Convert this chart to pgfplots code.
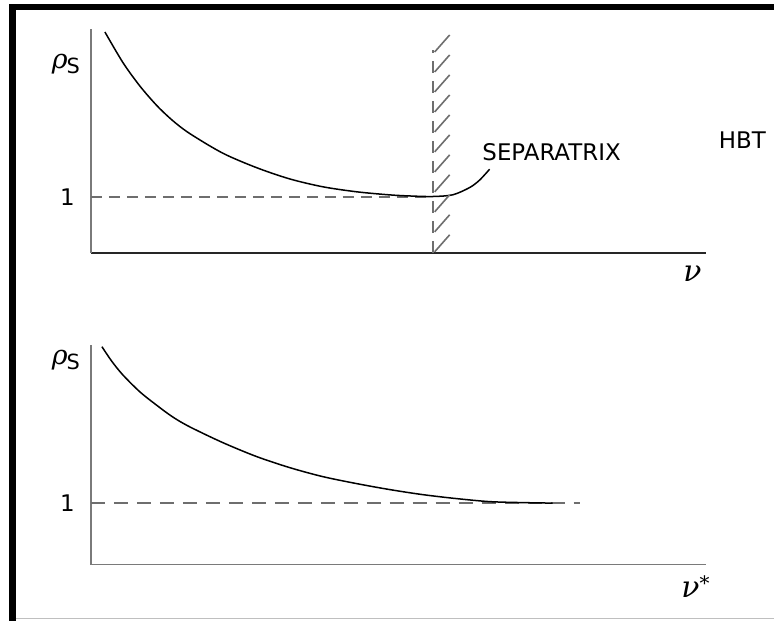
\documentclass[border=0pt]{standalone}
\usepackage{pgfplots}
\pgfplotsset{compat=1.18}
\usepackage{fontspec}
\setmainfont{DejaVu Sans}
\newfontfamily\grk{DejaVu Serif}
\definecolor{axisgray}{HTML}{7A7A7A}
\definecolor{dashgray}{HTML}{6E6E6E}
\begin{document}
\begin{tikzpicture}
\path (0bp,0bp) rectangle (775bp,621bp);
\fill[black] (9bp,0bp) rectangle (16bp,617bp);
\fill[black] (9bp,611bp) rectangle (775bp,617bp);
\draw[black!25, line width=1.2bp] (16bp,2bp) -- (775bp,2bp);

\pgfplotsset{
  panel/.style={
    scale only axis, width=616bp,
    anchor=origin,
    axis lines=left, axis line style={-, line width=1.8bp},
    y axis line style={axisgray},
    xmin=0, xmax=616, ymin=0,
    xtick=\empty, ytick={1}, yticklabels={1},
    major tick length=0pt,
    yticklabel style={font=\fontsize{23}{27}\selectfont, anchor=east, inner sep=0pt, xshift=-16bp},
    clip=false,
  },
  curve/.style={black, line width=1.5bp, smooth, no marks},
  dline/.style={dashgray, line width=2bp, no marks},
}

% ---------------- top panel ----------------
\begin{axis}[panel, at={(91bp,368bp)}, height=224bp, ymax=4,
  x axis line style={black!85}]
\addplot[dline, dash pattern=on 11bp off 7bp] coordinates {(0,1) (342,1)};
\addplot[curve] coordinates {
 (14,3.946) (32,3.40) (49,2.98) (66,2.63) (82,2.36) (99,2.13) (132,1.78)
 (166,1.52) (199,1.32) (232,1.18) (266,1.09) (299,1.035) (320,1.015) (342,1.006)
 (362,1.036) (379,1.166) (389,1.30) (399,1.494)};
% separatrix (hatched boundary)
\addplot[dline, line width=1.6bp, dash pattern=on 12bp off 8bp] coordinates {(342.5,0) (342.5,3.625)};
\addplot[dline, line width=1.6bp] coordinates {(344,3.589) (359,3.893)};
\addplot[dline, line width=1.6bp] coordinates {(344,3.232) (359,3.536)};
\addplot[dline, line width=1.6bp] coordinates {(344,2.875) (359,3.179)};
\addplot[dline, line width=1.6bp] coordinates {(344,2.518) (359,2.821)};
\addplot[dline, line width=1.6bp] coordinates {(344,2.161) (359,2.464)};
\addplot[dline, line width=1.6bp] coordinates {(344,1.804) (359,2.107)};
\addplot[dline, line width=1.6bp] coordinates {(344,1.446) (359,1.750)};
\addplot[dline, line width=1.6bp] coordinates {(344,1.089) (359,1.393)};
\addplot[dline, line width=1.6bp] coordinates {(344,0.732) (359,1.036)};
\addplot[dline, line width=1.6bp] coordinates {(344,0.375) (359,0.679)};
\addplot[dline, line width=1.6bp] coordinates {(344,0.018) (359,0.321)};
\node[font=\fontsize{23}{27}\selectfont, inner sep=0pt] at (axis cs:461,1.80) {SEPARATRIX};
\node[font=\fontsize{23}{27}\selectfont, inner sep=0pt] at (axis cs:652,2.02) {HBT};
\node[inner sep=0pt] at (axis cs:-25,3.37) {{\grk\itshape\fontsize{27}{31}\selectfont ρ}\kern-1bp\raisebox{-5bp}{\fontsize{21}{25}\selectfont S}};
\node[inner sep=0pt] at (axis cs:602,-0.38) {\grk\itshape\fontsize{30}{34}\selectfont ν};
\end{axis}

% ---------------- bottom panel ----------------
\begin{axis}[panel, at={(91bp,56bp)}, height=220bp, ymax=3.577,
  x axis line style={axisgray}]
\addplot[dline, dash pattern=on 14bp off 9bp] coordinates {(0,1) (489,1)};
\addplot[curve] coordinates {
 (11,3.545) (21,3.305) (32,3.085) (49,2.81) (66,2.59) (82,2.40) (99,2.24)
 (132,1.984) (166,1.756) (199,1.577) (232,1.431) (266,1.317) (299,1.220)
 (332,1.138) (366,1.073) (399,1.024) (432,1.008) (462,1.0)};
\node[inner sep=0pt] at (axis cs:-25,3.32) {{\grk\itshape\fontsize{27}{31}\selectfont ρ}\kern-1bp\raisebox{-5bp}{\fontsize{21}{25}\selectfont S}};
\node[inner sep=0pt] at (axis cs:605,-0.36) {\grk\itshape\fontsize{30}{34}\selectfont ν\raisebox{7bp}{\fontsize{20}{24}\selectfont *}};
\end{axis}
\end{tikzpicture}
\end{document}
